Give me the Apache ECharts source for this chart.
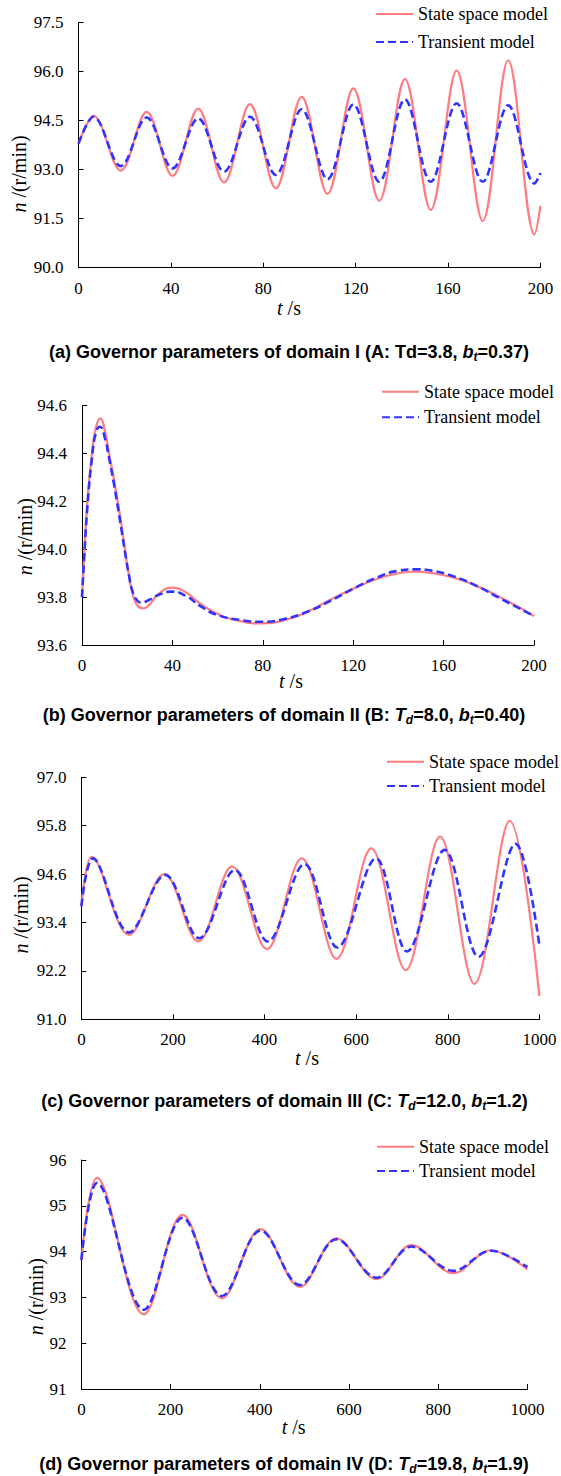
<!DOCTYPE html>
<html>
<head>
<meta charset="utf-8">
<script src="https://cdn.jsdelivr.net/npm/echarts@6/dist/echarts.min.js"></script>
<style>
html, body { margin: 0; padding: 0; background: #fff; }
#main { width: 561px; height: 1476px; }
</style>
</head>
<body>
<div id="main"></div>
<script>
// 图例名称
var seriesNames = ['State space model', 'Transient model'];

// (a) 区域I  [t, n]  起点 + 各波峰/波谷 + 终点
var stateA = [[0,93.80],[6.5,94.65],[18.3,92.97],[29.5,94.77],[40.7,92.81],[51.8,94.87],[63,92.61],[74.2,95.01],[85.4,92.43],[96.6,95.23],[107.8,92.26],[119,95.49],[130.2,92.05],[141.3,95.77],[152.5,91.77],[163.7,96.03],[175,91.43],[186,96.35],[197.4,91.02],[200,91.90]];
var transA = [[0,93.80],[6.5,94.62],[18.3,93.11],[29.5,94.60],[40.7,93.04],[51.8,94.57],[63,92.94],[74.2,94.62],[85.4,92.84],[96.6,94.85],[107.8,92.71],[119,95.00],[130.2,92.63],[141.3,95.15],[152.5,92.63],[163.7,95.03],[175,92.63],[186,94.97],[197.4,92.58],[200,92.90]];

// (b) 区域II
var stateB = [[0,93.80],[1,93.98],[2.4,94.20],[4.4,94.40],[6.2,94.51],[8.2,94.547],[10,94.50],[12,94.40],[14,94.30],[15.8,94.20],[17.5,94.10],[19,94.00],[20.8,93.89],[22.5,93.81],[24.5,93.765],[27,93.753],[30,93.77],[34,93.815],[40.3,93.84],[46,93.82],[52,93.775],[60,93.73],[70,93.70],[79.8,93.69],[90,93.705],[100,93.74],[110,93.79],[120,93.835],[130,93.875],[140,93.90],[147,93.906],[155,93.90],[165,93.88],[175,93.845],[185,93.80],[200,93.721]];
var transB = [[0,93.80],[1,93.97],[2.4,94.18],[4.4,94.38],[6.2,94.49],[7.9,94.512],[10,94.47],[12,94.38],[14,94.28],[15.8,94.18],[17.5,94.08],[19,93.99],[20.8,93.89],[22.5,93.82],[24.5,93.785],[26,93.777],[30,93.79],[34,93.81],[39.5,93.823],[46,93.805],[52,93.765],[60,93.725],[70,93.705],[80,93.697],[90,93.71],[100,93.74],[110,93.785],[120,93.835],[130,93.88],[140,93.91],[148,93.916],[155,93.91],[165,93.885],[175,93.845],[185,93.795],[200,93.721]];

// (c) 区域III
var stateC = [[0,93.80],[23,95.03],[104,93.09],[181,94.60],[255,92.93],[329,94.79],[405,92.74],[481,94.99],[557,92.50],[633,95.24],[708,92.22],[783,95.53],[858,91.88],[935,95.92],[1000,91.58]];
var transC = [[0,93.80],[25,94.99],[104,93.15],[183,94.58],[257,93.01],[335,94.70],[407,92.93],[487,94.85],[559,92.78],[643,94.99],[711,92.68],[793,95.20],[867,92.55],[948,95.35],[1000,92.82]];

// (d) 区域IV
var stateD = [[0,93.82],[35,95.61],[140,92.63],[227,94.80],[315,92.98],[402,94.49],[490,93.23],[572,94.29],[662,93.40],[740,94.14],[834,93.53],[918,94.03],[1000,93.61]];
var transD = [[0,93.82],[35,95.50],[140,92.73],[227,94.74],[315,93.03],[402,94.46],[490,93.27],[572,94.27],[662,93.43],[740,94.11],[834,93.58],[918,94.02],[1000,93.66]];

// 坐标轴刻度
var xTicksA = [0, 40, 80, 120, 160, 200];
var xTicksC = [0, 200, 400, 600, 800, 1000];
var yTicksA = [90.0, 91.5, 93.0, 94.5, 96.0, 97.5];
var yTicksB = [93.6, 93.8, 94.0, 94.2, 94.4, 94.6];
var yTicksC = [91.0, 92.2, 93.4, 94.6, 95.8, 97.0];
var yTicksD = [91, 92, 93, 94, 95, 96];

// 子图标题
var titleA = '{m|(a) Governor parameters of domain I (A: Td=3.8, }{bi|b}{sub|t}{m|=0.37)}';
var titleB = '{m|(b) Governor parameters of domain II (B: }{bi|T}{sub|d}{m|=8.0, }{bi|b}{sub|t}{m|=0.40)}';
var titleC = '{m|(c) Governor parameters of domain III (C: }{bi|T}{sub|d}{m|=12.0, }{bi|b}{sub|t}{m|=1.2)}';
var titleD = '{m|(d) Governor parameters of domain IV (D: }{bi|T}{sub|d}{m|=19.8, }{bi|b}{sub|t}{m|=1.9)}';

var RED = '#FF7C80';
var BLUE = '#3333FF';
var SERIF = 'Liberation Serif, Times New Roman, serif';
var SANS = 'Liberation Sans, Arial, sans-serif';

var chart = echarts.init(document.getElementById('main'), null, { renderer: 'svg' });

// 坐标轴公共样式
function makeAxis(gridIndex, vals, digits, labelMargin) {
    return {
        type: 'value',
        gridIndex: gridIndex,
        min: vals[0],
        max: vals[vals.length - 1],
        axisLine: { show: true, onZero: false, lineStyle: { color: '#000', width: 1 } },
        axisTick: { show: true, inside: true, length: 5, customValues: vals, lineStyle: { color: '#000', width: 1 } },
        axisLabel: {
            show: true,
            customValues: vals,
            margin: labelMargin,
            color: '#000',
            fontFamily: SERIF,
            fontSize: 17,
            formatter: function (v) { return v.toFixed(digits); }
        },
        splitLine: { show: false }
    };
}

function makeLegend(left, top, gap) {
    return {
        orient: 'vertical',
        left: left,
        top: top,
        itemWidth: 37,
        itemHeight: 14,
        itemGap: gap,
        padding: 0,
        data: seriesNames,
        itemStyle: { opacity: 0 },   // 只显示线段，不显示圆点
        textStyle: { fontFamily: SERIF, fontSize: 18, color: '#000' }
    };
}

// 峰谷点 smooth 取 0.36 近似正弦
function makePair(idx, redData, blueData, smooth) {
    return [{
        name: seriesNames[0],
        type: 'line',
        xAxisIndex: idx,
        yAxisIndex: idx,
        data: redData,
        smooth: smooth,
        symbol: 'none',
        showSymbol: false,
        lineStyle: { color: RED, width: 2.2 },
        itemStyle: { color: RED }
    }, {
        name: seriesNames[1],
        type: 'line',
        xAxisIndex: idx,
        yAxisIndex: idx,
        data: blueData,
        smooth: smooth,
        symbol: 'none',
        showSymbol: false,
        lineStyle: { color: BLUE, width: 2.6, type: [8, 4] },
        itemStyle: { color: BLUE }
    }];
}

// 标题、坐标轴名称文字
var titleRich = {
    m: { fontFamily: SANS, fontWeight: 'bold', fontSize: 18, lineHeight: 22, fill: '#000', color: '#000' },
    bi: { fontFamily: SANS, fontWeight: 'bold', fontStyle: 'italic', fontSize: 18, lineHeight: 22, fill: '#000', color: '#000' },
    sub: { fontFamily: SANS, fontWeight: 'bold', fontStyle: 'italic', fontSize: 12, lineHeight: 13, verticalAlign: 'bottom', fill: '#000', color: '#000' }
};
var nameRich = {
    i: { fontFamily: SERIF, fontStyle: 'italic', fontSize: 20, fill: '#000', color: '#000' }
};

function textEl(str, x, y, rich, rotate) {
    return {
        type: 'text',
        x: x,
        y: y,
        rotation: rotate ? Math.PI / 2 : 0,
        style: {
            text: str,
            rich: rich,
            fontFamily: SERIF,
            fontSize: 20,
            fill: '#000',
            align: 'center',
            verticalAlign: 'middle',
            textAlign: 'center',
            textVerticalAlign: 'middle'
        }
    };
}

var option = {
    backgroundColor: '#fff',
    animation: false,
    textStyle: { fontFamily: SERIF, color: '#000' },
    grid: [
        { left: 78.5, top: 22.7, width: 462, height: 245, outerBoundsMode: 'none' },
        { left: 82, top: 405.7, width: 452, height: 239.3, outerBoundsMode: 'none' },
        { left: 81.4, top: 777.3, width: 458, height: 242, outerBoundsMode: 'none' },
        { left: 81.4, top: 1160, width: 446, height: 229, outerBoundsMode: 'none' }
    ],
    xAxis: [
        makeAxis(0, xTicksA, 0, 12),
        makeAxis(1, xTicksA, 0, 12),
        makeAxis(2, xTicksC, 0, 12),
        makeAxis(3, xTicksC, 0, 12)
    ],
    yAxis: [
        makeAxis(0, yTicksA, 1, 15),
        makeAxis(1, yTicksB, 1, 15),
        makeAxis(2, yTicksC, 1, 15),
        makeAxis(3, yTicksD, 0, 15)
    ],
    legend: [
        makeLegend(375, 5, 10),
        makeLegend(381, 382.7, 7.6),
        makeLegend(386, 752.7, 6.3),
        makeLegend(376, 1137.7, 6.3)
    ],
    series: [].concat(
        makePair(0, stateA, transA, 0.36),
        makePair(1, stateB, transB, 0.5),
        makePair(2, stateC, transC, 0.36),
        makePair(3, stateD, transD, 0.36)
    ),
    graphic: [
        textEl(titleA, 289, 352, titleRich),
        textEl(titleB, 284, 715, titleRich),
        textEl(titleC, 284.5, 1101, titleRich),
        textEl(titleD, 284, 1463.5, titleRich),
        textEl('{i|t} /s', 289, 308, nameRich),
        textEl('{i|t} /s', 291, 680.7, nameRich),
        textEl('{i|t} /s', 307, 1058, nameRich),
        textEl('{i|t} /s', 293.6, 1426.7, nameRich),
        textEl('{i|n} /(r/min)', 18.6, 174, nameRich, true),
        textEl('{i|n} /(r/min)', 25, 536.7, nameRich, true),
        textEl('{i|n} /(r/min)', 21.4, 915, nameRich, true),
        textEl('{i|n} /(r/min)', 36.4, 1296.7, nameRich, true)
    ]
};

chart.setOption(option);
</script>
</body>
</html>
